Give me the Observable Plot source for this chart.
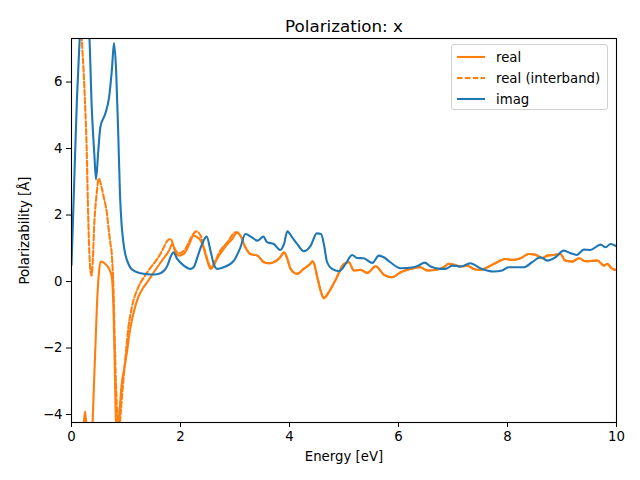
<!DOCTYPE html>
<html><head><meta charset="utf-8">
<script src="https://cdn.jsdelivr.net/npm/d3@7"></script>
<script src="https://cdn.jsdelivr.net/npm/@observablehq/plot@0.6"></script>
<style>
body{margin:0;background:#fff;font-family:"DejaVu Sans",sans-serif;}
#wrap{position:relative;width:640px;height:480px;}
#legend{position:absolute;left:451px;top:44px;width:157px;height:66px;box-sizing:border-box;border:1px solid #d0d0d0;border-radius:3px;background:rgba(255,255,255,0.8);font-size:13.3px;color:#000;font-family:"DejaVu Sans",sans-serif;}
.row{position:absolute;left:0;height:16px;display:flex;align-items:center;white-space:nowrap;}
.row svg{margin-left:5px;margin-right:11px;}
</style></head>
<body><div id="wrap"></div>
<script>
const titleText = "Polarization: x";
const xLabel = "Energy [eV]";
const yLabel = "Polarizability [Å]";
const xTicks = [0, 2, 4, 6, 8, 10];
const yTicks = [-4, -2, 0, 2, 4, 6];
const seriesNames = ["real", "real (interband)", "imag"];

// [energy, value]
const real = [[0,-30],[0.1,-15],[0.18,-6],[0.22,-4.4],[0.25,-3.9],[0.28,-4.5],[0.31,-5.5],[0.35,-6],[0.38,-4.6],[0.41,-3.2],[0.44,-1.9],[0.47,-0.6],[0.50,0.2],[0.53,0.6],[0.58,0.58],[0.62,0.53],[0.69,0.38],[0.74,0.13],[0.77,-0.8],[0.79,-2.2],[0.81,-3.9],[0.84,-4.8],[0.86,-4.3],[0.89,-3.7],[0.92,-3.1],[0.97,-2.6],[1.02,-2.1],[1.06,-1.6],[1.11,-1.15],[1.17,-0.75],[1.23,-0.45],[1.31,-0.2],[1.39,-0.02],[1.51,0.28],[1.66,0.63],[1.79,0.93],[1.85,1.13],[1.91,0.88],[1.97,0.78],[2.06,0.83],[2.15,1.08],[2.24,1.38],[2.31,1.33],[2.37,1.23],[2.43,0.98],[2.49,0.63],[2.55,0.38],[2.61,0.48],[2.67,0.68],[2.77,0.93],[2.86,1.13],[2.95,1.28],[3.04,1.48],[3.10,1.38],[3.19,1.03],[3.28,0.83],[3.41,0.78],[3.53,0.58],[3.62,0.55],[3.71,0.58],[3.83,0.73],[3.90,0.88],[3.96,0.68],[4.02,0.38],[4.14,0.23],[4.26,0.38],[4.36,0.5],[4.43,0.61],[4.51,0.13],[4.57,-0.27],[4.63,-0.50],[4.72,-0.32],[4.84,0.03],[5.00,0.53],[5.09,0.58],[5.18,0.33],[5.30,0.35],[5.43,0.26],[5.58,0.46],[5.73,0.21],[5.88,0.13],[6.04,0.28],[6.22,0.38],[6.40,0.43],[6.53,0.33],[6.71,0.36],[6.83,0.43],[6.92,0.53],[7.01,0.51],[7.14,0.45],[7.26,0.48],[7.38,0.38],[7.50,0.35],[7.63,0.43],[7.81,0.58],[7.96,0.68],[8.09,0.65],[8.24,0.70],[8.39,0.83],[8.51,0.81],[8.64,0.70],[8.73,0.78],[8.85,0.80],[8.97,0.83],[9.06,0.63],[9.19,0.60],[9.31,0.70],[9.43,0.61],[9.65,0.63],[9.77,0.48],[9.83,0.53],[9.92,0.38],[10.0,0.35]];

const interbandLow = [[0,30],[0.1,15],[0.16,10],[0.19,7.4],[0.22,6.4],[0.25,5.3],[0.28,3.9],[0.30,2.4],[0.32,1.2],[0.35,0.3],[0.37,0.18],[0.39,0.6],[0.42,1.8],[0.46,2.6],[0.50,3.1],[0.55,2.85],[0.59,2.55],[0.65,2.05],[0.68,1.6],[0.71,1.2],[0.74,0.8],[0.77,-0.2],[0.80,-2.2],[0.83,-3.7],[0.87,-4.6],[0.90,-4.0],[0.95,-3.0],[1.00,-2.1],[1.05,-1.3],[1.08,-1.0],[1.14,-0.55],[1.20,-0.27],[1.26,-0.05],[1.33,0.13],[1.40,0.3],[1.48,0.48],[1.56,0.65],[1.63,0.83],[1.70,1.05],[1.76,1.23],[1.82,1.28],[1.88,1.03],[1.97,0.85],[2.09,0.98],[2.18,1.28],[2.29,1.51],[2.37,1.38],[2.43,1.03],[2.50,0.63],[2.56,0.43],[2.64,0.63],[2.73,0.93],[2.86,1.18],[3.01,1.48]];
// above ~3.1 eV the interband curve lies on top of the full real part
const interband = interbandLow.concat(real.filter(d => d[0] >= 3.1));

const imag = [[0,0.5],[0.04,2.5],[0.10,5.5],[0.15,7.3],[0.20,9.5],[0.25,9.8],[0.30,8.0],[0.33,7.3],[0.37,5.3],[0.42,3.8],[0.45,3.07],[0.49,3.9],[0.53,4.65],[0.62,5.05],[0.69,5.55],[0.74,6.35],[0.78,7.17],[0.82,6.3],[0.86,4.3],[0.89,2.6],[0.92,1.7],[0.95,1.2],[0.99,0.8],[1.04,0.55],[1.08,0.42],[1.15,0.32],[1.27,0.25],[1.40,0.22],[1.51,0.21],[1.63,0.25],[1.70,0.33],[1.76,0.48],[1.82,0.75],[1.87,0.88],[1.94,0.68],[2.06,0.48],[2.18,0.38],[2.24,0.43],[2.34,0.88],[2.42,1.22],[2.48,1.35],[2.55,0.93],[2.61,0.53],[2.67,0.38],[2.79,0.43],[2.98,0.63],[3.10,1.03],[3.19,1.43],[3.31,1.33],[3.41,1.23],[3.52,1.35],[3.59,1.18],[3.71,1.13],[3.83,0.95],[3.90,1.13],[3.96,1.51],[4.04,1.35],[4.14,1.13],[4.26,0.91],[4.39,1.08],[4.50,1.45],[4.58,1.43],[4.63,1.13],[4.69,0.58],[4.78,0.38],[4.91,0.31],[5.03,0.53],[5.15,0.80],[5.24,0.71],[5.36,0.70],[5.52,0.56],[5.64,0.78],[5.73,0.73],[5.85,0.58],[6.04,0.40],[6.28,0.43],[6.37,0.48],[6.48,0.57],[6.59,0.45],[6.77,0.38],[6.86,0.38],[6.99,0.48],[7.14,0.45],[7.32,0.55],[7.50,0.40],[7.75,0.30],[7.90,0.33],[8.02,0.43],[8.30,0.43],[8.45,0.58],[8.61,0.73],[8.73,0.63],[8.88,0.73],[9.03,0.93],[9.16,0.85],[9.27,0.80],[9.40,0.96],[9.52,0.95],[9.71,1.11],[9.80,1.03],[9.89,1.13],[10.0,1.06]];

const colors = {real: "#ff7f0e", interband: "#ff7f0e", imag: "#1f77b4"};
const fmt = d => d < 0 ? "\u2212" + Math.abs(d) : String(d);

const lineOpts = (stroke, extra = {}) => Object.assign({x: d => d[0], y: d => d[1], stroke, strokeWidth: 2.1, curve: "monotone-x", clip: true}, extra);

const chart = Plot.plot({
  width: 640, height: 480,
  marginTop: 38, marginBottom: 58, marginLeft: 71, marginRight: 24,
  style: {fontFamily: "DejaVu Sans, sans-serif", fontSize: "13.3px", color: "#000", background: "#fff"},
  x: {domain: [0, 10], ticks: xTicks, tickSize: 5, tickPadding: 4, tickFormat: fmt, label: xLabel, labelAnchor: "center", labelArrow: "none", labelOffset: 38},
  y: {domain: [-4.24, 7.31], ticks: yTicks, tickSize: 5, tickPadding: 4, tickFormat: fmt, label: yLabel, labelAnchor: "center", labelArrow: "none", labelOffset: 52},
  marks: [
    Plot.line(real, lineOpts(colors.real)),
    Plot.line(interband, lineOpts(colors.interband, {strokeDasharray: "5.5,2.4"})),
    Plot.line(imag, lineOpts(colors.imag)),
    Plot.frame({stroke: "#000", strokeWidth: 1.1}),
    Plot.text([titleText], {text: d => d, frameAnchor: "top", dy: -18, fontSize: 16.7, fill: "#000"})
  ]
});

const wrap = document.getElementById("wrap");
wrap.appendChild(chart);

const legend = document.createElement("div");
legend.id = "legend";
const legendItems = [
  {name: seriesNames[0], color: colors.real, dash: null},
  {name: seriesNames[1], color: colors.interband, dash: "5.5,2.4"},
  {name: seriesNames[2], color: colors.imag, dash: null}
];
legendItems.forEach((it, i) => {
  const row = document.createElement("div");
  row.className = "row";
  row.style.top = (4 + i * 21) + "px";
  row.innerHTML = `<svg width="28" height="10"><line x1="0" x2="28" y1="5" y2="5" stroke="${it.color}" stroke-width="2.1" ${it.dash ? `stroke-dasharray="${it.dash}"` : ""}/></svg><span>${it.name}</span>`;
  legend.appendChild(row);
});
wrap.appendChild(legend);
</script></body></html>
